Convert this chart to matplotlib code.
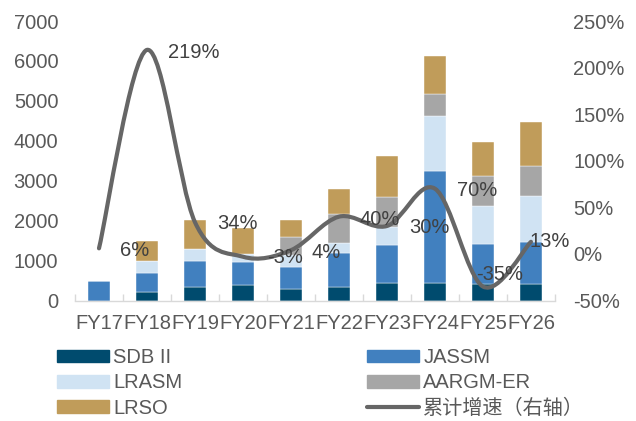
import numpy as np
import matplotlib
matplotlib.use('Agg')
import matplotlib.pyplot as plt
from matplotlib.path import Path
from matplotlib.patches import PathPatch
from matplotlib.lines import Line2D
from matplotlib.patches import Patch

plt.rcParams['font.family'] = ['Liberation Sans', 'Noto Sans CJK SC', 'DejaVu Sans']

# data
years = ['FY17', 'FY18', 'FY19', 'FY20', 'FY21', 'FY22', 'FY23', 'FY24', 'FY25', 'FY26']
sdb = [0, 225, 340, 390, 290, 345, 430, 430, 415, 415]
jassm = [480, 460, 650, 585, 560, 840, 960, 2825, 1000, 1045]
lrasm = [0, 315, 295, 195, 300, 250, 460, 1370, 960, 1160]
aargm = [0, 0, 0, 0, 430, 730, 750, 545, 755, 760]
lrso = [0, 495, 720, 645, 425, 635, 1020, 960, 840, 1090]
growth = [6, 219, 34, -3, 4, 40, 30, 70, -35, 13]
growth_labels = ['6%', '219%', '34%', '-3%', '4%', '40%', '30%', '70%', '-35%', '13%']

# label offsets (pixels) relative to the line points
label_offsets = [(36, -2), (47, -3), (42, -1), (42, -1), (35, -2),
                 (41, -3), (42, -2), (42, -2), (17, 12), (19, 0)]

colors = {'SDB II': '#004B6E', 'JASSM': '#4180BF', 'LRASM': '#D0E3F3',
          'AARGM-ER': '#A6A6A6', 'LRSO': '#C09C5A'}
line_color = '#666666'
txt = '#595959'
fs = 14.5

fig = plt.figure(figsize=(6.36, 4.21), dpi=100)
ax = fig.add_axes([0.1179, 0.2862, 0.7547, 0.6639])
ax2 = ax.twinx()

x = np.arange(len(years))
bottom = np.zeros(len(years))
series = [('SDB II', sdb), ('JASSM', jassm), ('LRASM', lrasm),
          ('AARGM-ER', aargm), ('LRSO', lrso)]
for name, vals in series:
    vals = np.array(vals, dtype=float)
    ax.bar(x, vals, 0.44, bottom=bottom, color=colors[name],
           edgecolor='white', linewidth=0.3)
    bottom += vals

ax.set_xlim(-0.5, len(years) - 0.5)
ax.set_ylim(0, 7000)
ax.set_yticks(range(0, 7001, 1000))
ax.set_xticks(x)
ax.set_xticklabels(years)
ax.set_xticks(np.arange(-0.5, len(years), 1), minor=True)
ax.tick_params(axis='x', which='major', length=0, pad=10, labelsize=fs, labelcolor=txt)
ax.tick_params(axis='x', which='minor', direction='in', length=5, color='#D9D9D9', width=1)
ax.tick_params(axis='y', length=0, pad=12, labelsize=fs, labelcolor=txt)
for s in ['top', 'left', 'right']:
    ax.spines[s].set_visible(False)
ax.spines['bottom'].set_color('#D9D9D9')
ax.spines['bottom'].set_linewidth(1)

# smooth line: Catmull-Rom converted to cubic bezier
pts = np.column_stack([x, growth]).astype(float)
verts = [tuple(pts[0])]
codes = [Path.MOVETO]
n = len(pts)
for i in range(n - 1):
    p0 = pts[i - 1] if i > 0 else pts[i]
    p1 = pts[i]
    p2 = pts[i + 1]
    p3 = pts[i + 2] if i + 2 < n else pts[i + 1]
    c1 = p1 + (p2 - p0) / 6
    c2 = p2 - (p3 - p1) / 6
    verts += [tuple(c1), tuple(c2), tuple(p2)]
    codes += [Path.CURVE4, Path.CURVE4, Path.CURVE4]
ax2.add_patch(PathPatch(Path(verts, codes), facecolor='none', edgecolor=line_color,
                        linewidth=3, capstyle='round', joinstyle='round'))

ax2.set_ylim(-50, 250)
ax2.set_yticks(range(-50, 251, 50))
ax2.set_yticklabels([f'{v}%' for v in range(-50, 251, 50)])
ax2.tick_params(axis='y', length=0, pad=13, labelsize=fs, labelcolor=txt)
for s in ['top', 'left', 'right', 'bottom']:
    ax2.spines[s].set_visible(False)

for xi, yi, lab, (dx, dy) in zip(x, growth, growth_labels, label_offsets):
    ax2.annotate(lab, (xi, yi), xytext=(dx, dy), textcoords='offset pixels',
                 ha='center', va='center', fontsize=fs, color='#404040')

# legend in two columns
h1 = [Patch(color=colors['SDB II']), Patch(color=colors['LRASM']), Patch(color=colors['LRSO'])]
l1 = ['SDB II', 'LRASM', 'LRSO']
h2 = [Patch(color=colors['JASSM']), Patch(color=colors['AARGM-ER']),
      Line2D([0], [0], color=line_color, linewidth=3, solid_capstyle='round')]
l2 = ['JASSM', 'AARGM-ER', '累计增速（右轴）']
common = dict(loc='upper left', frameon=False, fontsize=fs, handlelength=2.6,
              handleheight=0.6, handletextpad=0.2, labelspacing=0.32,
              borderpad=0, borderaxespad=0, labelcolor=txt)
leg1 = fig.legend(h1, l1, bbox_to_anchor=(57 / 636, 1 - 348 / 421), **common)
leg2 = fig.legend(h2, l2, bbox_to_anchor=(367 / 636, 1 - 348 / 421), **common)

fig.savefig('out.png', dpi=100)
